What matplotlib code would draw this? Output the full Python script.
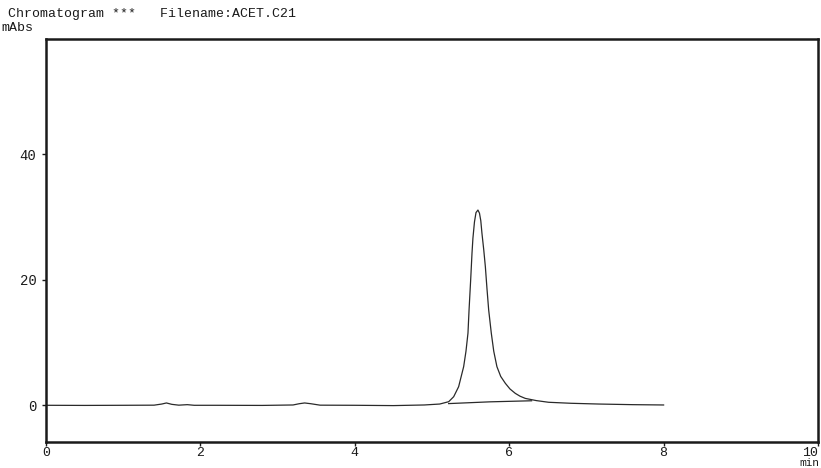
import matplotlib
matplotlib.use("Agg")
import matplotlib.pyplot as plt

MONO = ["Liberation Mono", "DejaVu Sans Mono"]
INK = "#1a1a1a"

# detector trace, (min, mAbs) pairs
trace_t = [0.00, 0.50, 1.00, 1.40, 1.50, 1.56, 1.63, 1.72, 1.83, 1.92, 2.20,
           2.80, 3.20, 3.28, 3.35, 3.43, 3.55, 4.00, 4.50, 4.90, 5.10, 5.216,
           5.281, 5.345, 5.410, 5.440, 5.466, 5.480, 5.501, 5.518, 5.530,
           5.550, 5.570, 5.595, 5.615, 5.632, 5.647, 5.670, 5.691, 5.712,
           5.734, 5.768, 5.800, 5.841, 5.890, 5.950, 6.010, 6.079, 6.140,
           6.208, 6.350, 6.510, 6.800, 7.160, 7.600, 8.00]
trace_y = [0.00, -0.02, 0.00, 0.02, 0.20, 0.37, 0.15, 0.02, 0.10, 0.00, 0.00,
           -0.02, 0.05, 0.25, 0.37, 0.25, 0.02, 0.00, -0.05, 0.05, 0.20, 0.57,
           1.37, 2.96, 6.15, 8.60, 11.5, 15.2, 20.0, 24.2, 26.6,
           29.2, 30.7, 31.1, 30.6, 29.4, 27.4, 24.8, 22.1, 18.6,
           15.2, 11.5, 8.60, 6.15, 4.60, 3.50, 2.60, 1.90, 1.45,
           1.10, 0.75, 0.48, 0.32, 0.20, 0.10, 0.05]

# integration baseline under the main peak
base_t = [5.216, 5.75, 6.29]
base_y = [0.27, 0.55, 0.72]

x_ticks = [0, 2, 4, 6, 8, 10]
y_ticks = [0, 20, 40]

fig = plt.figure(figsize=(8.21, 4.68), dpi=100)
ax = fig.add_axes([46 / 821, 1 - 441.7 / 468, (818 - 46) / 821, (441.7 - 39.3) / 468])

ax.plot(trace_t, trace_y, color="#2a2a2a", lw=0.9)
ax.plot(base_t, base_y, color="#2a2a2a", lw=0.9)

ax.set_xlim(0, 10)
ax.set_ylim(-5.8, 58.3)
ax.set_xticks(x_ticks)
ax.set_yticks(y_ticks)
ax.tick_params(axis="both", direction="out", length=3, width=1, colors=INK)
ax.tick_params(axis="x", pad=1, labelsize=9.5)
ax.tick_params(axis="y", pad=4, labelsize=10)
for lab in ax.get_xticklabels() + ax.get_yticklabels():
    lab.set_fontfamily(MONO)
# the last x label sits flush with the right frame
ax.get_xticklabels()[-1].set_horizontalalignment("right")

for s in ax.spines.values():
    s.set_linewidth(1.8)
    s.set_color(INK)

fig.text(8 / 821, 1 - 14 / 468, "Chromatogram ***   Filename:ACET.C21",
         fontsize=9.5, family=MONO, color=INK, va="center", ha="left")
fig.text(1 / 821, 1 - 28 / 468, "mAbs", fontsize=9.5, family=MONO, color=INK,
         va="center", ha="left")
fig.text(819 / 821, 0.0, "min", fontsize=8, family=MONO, color=INK,
         va="bottom", ha="right")

fig.savefig("out.png", dpi=100, facecolor="white")
